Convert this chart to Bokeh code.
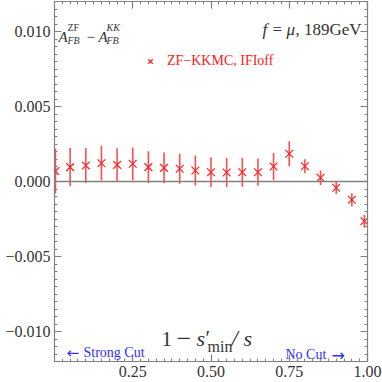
from bokeh.plotting import figure
from bokeh.models import (ColumnDataSource, FixedTicker, LinearAxis, Range1d, Span,
                          Label, Legend, LegendItem, CustomJSTickFormatter)
from bokeh.embed import file_html
from bokeh.resources import INLINE
import numpy as np

# ---- data ----
x_cut = [0.003, 0.05, 0.10, 0.15, 0.20, 0.25, 0.30, 0.35, 0.40, 0.45, 0.50,
         0.55, 0.60, 0.65, 0.70, 0.75, 0.80, 0.85, 0.90, 0.95, 0.99]
delta_afb = [0.00070, 0.00096, 0.00107, 0.00122, 0.00111, 0.00118, 0.00096,
             0.00091, 0.00085, 0.00073, 0.00062, 0.00060, 0.00062, 0.00062,
             0.00100, 0.00185, 0.00102, 0.00025, -0.00042, -0.00122, -0.00265]
delta_err = [0.00150, 0.00127, 0.00117, 0.00116, 0.00111, 0.00109, 0.00106,
             0.00102, 0.00100, 0.00100, 0.00099, 0.00097, 0.00097, 0.00091,
             0.00090, 0.00083, 0.00047, 0.00048, 0.00041, 0.00044, 0.00043]
x_ticks = [0.25, 0.50, 0.75, 1.00]
y_ticks = [-0.010, -0.005, 0.0, 0.005, 0.010]
series_label = "ZF\u2212KKMC, IFIoff"

RED = "#ff2020"
GRAY = "#808080"
TXT = "#333333"
BLUE = "#2f2fff"
SERIF = "Liberation Serif"
SANS = "DejaVu Sans"

X0, X1 = 0.0, 1.0
Y0, Y1 = -0.012, 0.012

src = ColumnDataSource(dict(
    x=x_cut, y=delta_afb,
    lo=[v - e for v, e in zip(delta_afb, delta_err)],
    hi=[v + e for v, e in zip(delta_afb, delta_err)],
))

p = figure(width=382, height=382, output_backend="svg", toolbar_location=None,
           x_range=Range1d(X0, X1), y_range=Range1d(Y0, Y1),
           x_axis_type=None, y_axis_type=None,
           min_border_left=54, min_border_right=15, min_border_top=1, min_border_bottom=21)
p.grid.visible = False
p.outline_line_color = GRAY
p.background_fill_color = "white"
p.border_fill_color = "white"

x_minor = [round(v, 4) for v in np.arange(0, 1.0001, 0.025)]
y_minor = [round(v, 5) for v in np.arange(-0.012, 0.01201, 0.0005)]


def make_axis(ticks, minor, code, labels):
    ax = LinearAxis(ticker=FixedTicker(ticks=ticks, minor_ticks=minor),
                    formatter=CustomJSTickFormatter(code=code if labels else "return '';"))
    ax.axis_line_color = GRAY
    ax.axis_line_width = 1.2
    ax.major_tick_line_color = GRAY
    ax.minor_tick_line_color = GRAY
    ax.major_tick_line_width = 1.2
    ax.minor_tick_line_width = 1.0
    ax.major_tick_in = 7
    ax.major_tick_out = 0
    ax.minor_tick_in = 3
    ax.minor_tick_out = 0
    ax.major_label_text_font = SERIF
    ax.major_label_text_font_size = "16px"
    ax.major_label_text_color = TXT
    ax.major_label_standoff = 4 if labels else 0
    return ax


xfmt = "return tick.toFixed(2);"
yfmt = "return tick.toFixed(3).replace('-', '\\u2212');"
p.add_layout(make_axis(x_ticks, x_minor, xfmt, True), "below")
p.add_layout(make_axis(x_ticks, x_minor, xfmt, False), "above")
p.add_layout(make_axis(y_ticks, y_minor, yfmt, True), "left")
p.add_layout(make_axis(y_ticks, y_minor, yfmt, False), "right")

p.add_layout(Span(location=0, dimension="width", line_color=GRAY, line_width=1.5))

p.segment(x0="x", y0="lo", x1="x", y1="hi", source=src, line_color=RED,
          line_alpha=0.8, line_width=1.6)
pts = p.scatter(x="x", y="y", source=src, marker="x", size=11, line_width=1.2,
                color=RED)

legend = Legend(items=[LegendItem(label=series_label, renderers=[pts])],
                location=(88, 292), padding=0, margin=0, spacing=0,
                glyph_width=16, glyph_height=16, label_standoff=9,
                label_text_font=SERIF, label_text_font_size="14px",
                label_text_color=RED, label_height=16,
                background_fill_alpha=0, border_line_color=None)
p.add_layout(legend)


def px2x(px):
    return X0 + (px - 54) / 313 * (X1 - X0)


def py2y(py):
    return (181 - py) / 15000.0


def lab(px, py, text, size, style="normal", color=TXT, font=SERIF):
    p.add_layout(Label(x=px2x(px), y=py2y(py), text=text, text_font=font,
                       text_font_size=f"{size}px", text_font_style=style,
                       text_color=color, text_align="left",
                       text_baseline="alphabetic"))


# A_FB^ZF - A_FB^KK
lab(58, 36, "A", 15, "italic")
lab(67, 27, "ZF", 10)
lab(67, 40, "FB", 10, "italic")
lab(86, 36, "\u2212", 15)
lab(98, 36, "A", 15, "italic")
lab(106, 27, "KK", 10, "italic")
lab(106, 40, "FB", 10, "italic")

# f = mu, 189GeV
lab(262, 29, "f", 17, "italic")
lab(272, 29, "=", 17)
lab(286, 29, "\u03bc", 17, "italic")
lab(295, 29, ", 189GeV", 17)

# axis title 1 - s'_min / s
lab(161, 338, "1", 21)
lab(176, 338, "\u2212", 26)
lab(196, 338, "s", 22, "italic")
lab(205, 337, "\u2032", 21)
lab(207, 346, "min", 16)
lab(231, 338, "/", 23, "italic")
lab(243, 338, "s", 22, "italic")

# cut annotations
lab(66, 352, "\u2190", 15, color=BLUE, font=SANS)
lab(83, 352, "Strong Cut", 14, color=BLUE)
lab(285, 354, "No Cut", 14, color=BLUE)
lab(331, 355, "\u2192", 16, color=BLUE, font=SANS)

open("out.html", "w").write(file_html(p, INLINE))
